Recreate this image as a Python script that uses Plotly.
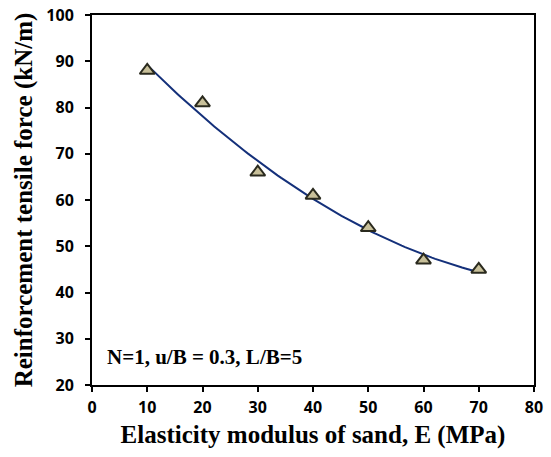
import numpy as np
import plotly.graph_objects as go

E_mpa = [10, 20, 30, 40, 50, 60, 70]
tensile_force = [88, 81, 66, 61, 54, 47, 45]
x_ticks = [0, 10, 20, 30, 40, 50, 60, 70, 80]
y_ticks = [20, 30, 40, 50, 60, 70, 80, 90, 100]

# second-order polynomial trendline (as Excel's trendline) fitted to the data
coef = np.polyfit(E_mpa, tensile_force, 2)
fit_x = np.linspace(min(E_mpa), max(E_mpa), 100)
fit_y = np.polyval(coef, fit_x)

fig = go.Figure()
fig.add_trace(go.Scatter(x=fit_x, y=fit_y, mode="lines",
                         line=dict(color="#14307a", width=2), showlegend=False))
fig.add_trace(go.Scatter(x=E_mpa, y=tensile_force, mode="markers",
                         marker=dict(symbol="triangle-up", size=13, color="#c8c09a",
                                     line=dict(color="#2a2a1e", width=2)),
                         showlegend=False))

tick_font = dict(family="Open Sans", size=16, color="black")

fig.update_layout(
    width=551, height=457,
    margin=dict(l=92, r=17, t=15, b=72),
    paper_bgcolor="white", plot_bgcolor="white",
    xaxis=dict(range=[0, 80], tickvals=x_ticks, ticktext=[f"<b>{v}</b>" for v in x_ticks],
               showgrid=False, zeroline=False, automargin=False,
               showline=True, linecolor="black", linewidth=2, mirror=True,
               ticks="outside", ticklen=5, tickwidth=1.5, tickcolor="black",
               tickfont=tick_font, ticklabelstandoff=2,
               title=dict(text="<b>Elasticity modulus of sand, E (MPa)</b>",
                          font=dict(family="Liberation Serif", size=25, color="black"), standoff=8)),
    yaxis=dict(range=[20, 100], tickvals=y_ticks, ticktext=[f"<b>{v}</b>" for v in y_ticks],
               showgrid=False, zeroline=False, automargin=False,
               showline=True, linecolor="black", linewidth=2, mirror=True,
               ticks="outside", ticklen=5, tickwidth=1.5, tickcolor="black",
               tickfont=tick_font, ticklabelstandoff=8,
               title=dict(text="<b>Reinforcement tensile force (kN/m)</b>",
                          font=dict(family="Liberation Serif", size=25, color="black"), standoff=7)),
    annotations=[dict(x=0.03, y=0.075, xref="paper", yref="paper", xanchor="left", yanchor="middle",
                      text="<b>N=1, u/B = 0.3, L/B=5</b>", showarrow=False,
                      font=dict(family="Liberation Serif", size=21, color="black"))],
)

fig.write_html("out.html")
